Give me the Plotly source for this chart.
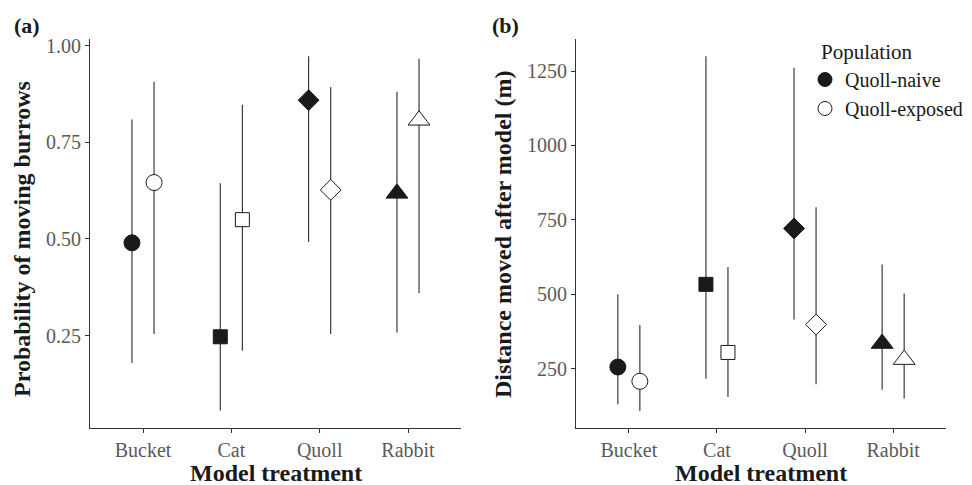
import plotly.graph_objects as go

W, H = 972, 485

categories = ["Bucket", "Cat", "Quoll", "Rabbit"]
symbols = ["circle", "square", "diamond", "triangle-up"]
sizes = [16, 14, 16, 19]

# Panel (a): probability of moving burrows
prob_naive = [0.490, 0.247, 0.859, 0.618]
prob_naive_lo = [0.179, 0.056, 0.492, 0.258]
prob_naive_hi = [0.809, 0.644, 0.973, 0.881]
prob_exposed = [0.646, 0.550, 0.627, 0.807]
prob_exposed_lo = [0.254, 0.211, 0.254, 0.360]
prob_exposed_hi = [0.907, 0.847, 0.893, 0.966]

# Panel (b): distance moved after model (m)
dist_naive = [255, 533, 721, 334]
dist_naive_lo = [130, 216, 415, 179]
dist_naive_hi = [500, 1300, 1261, 600]
dist_exposed = [207, 304, 398, 280]
dist_exposed_lo = [107, 154, 197, 149]
dist_exposed_hi = [396, 591, 792, 502]

prob_ticks = [0.25, 0.50, 0.75, 1.00]
dist_ticks = [250, 500, 750, 1000, 1250]

DODGE = 0.125
FONT = "Liberation Serif"
INK = "#1a1a1a"
TICKCOL = "#5a5a5a"

fig = go.Figure()


def add_series(xref, yref, vals, lo, hi, filled, name):
    xs = [i + 1 + (-DODGE if filled else DODGE) for i in range(len(categories))]
    fig.add_trace(go.Scatter(
        x=xs, y=vals, mode="markers", xaxis=xref, yaxis=yref, showlegend=False,
        name=name, hoverinfo="x+y",
        error_y=dict(type="data", symmetric=False,
                     array=[h - v for h, v in zip(hi, vals)],
                     arrayminus=[v - l for v, l in zip(vals, lo)],
                     width=0, thickness=1.1, color="#2a2a2a"),
        marker=dict(symbol=symbols, size=sizes, opacity=1,
                    color=INK if filled else "white",
                    line=dict(color=INK, width=1)),
    ))


add_series("x", "y", prob_naive, prob_naive_lo, prob_naive_hi, True, "Quoll-naive")
add_series("x", "y", prob_exposed, prob_exposed_lo, prob_exposed_hi, False, "Quoll-exposed")
add_series("x2", "y2", dist_naive, dist_naive_lo, dist_naive_hi, True, "Quoll-naive")
add_series("x2", "y2", dist_exposed, dist_exposed_lo, dist_exposed_hi, False, "Quoll-exposed")

# legend-only traces
fig.add_trace(go.Scatter(x=[None], y=[None], mode="markers", name="Quoll-naive",
                         xaxis="x2", yaxis="y2",
                         marker=dict(symbol="circle", size=14, opacity=1, color=INK,
                                     line=dict(color=INK, width=1))))
fig.add_trace(go.Scatter(x=[None], y=[None], mode="markers", name="Quoll-exposed",
                         xaxis="x2", yaxis="y2",
                         marker=dict(symbol="circle", size=14, opacity=1, color="white",
                                     line=dict(color=INK, width=1))))

ydom = [57 / H, 445.7 / H]
xcommon = dict(range=[0.4, 4.6], tickvals=[1, 2, 3, 4], ticktext=categories,
               showline=True, linecolor="#333", linewidth=1, ticks="outside", ticklen=4,
               tickcolor="#333", tickwidth=1, showgrid=False, zeroline=False,
               tickfont=dict(family=FONT, size=20, color=TICKCOL), fixedrange=True)
ycommon = dict(showline=True, linecolor="#333", linewidth=1, ticks="outside", ticklen=4,
               tickcolor="#333", tickwidth=1, showgrid=False, zeroline=False,
               tickfont=dict(family=FONT, size=20, color=TICKCOL), fixedrange=True)

fig.update_layout(
    width=W, height=H,
    margin=dict(l=0, r=0, t=0, b=0, autoexpand=False),
    paper_bgcolor="white", plot_bgcolor="white",
    font=dict(family=FONT, color=INK),
    xaxis=dict(domain=[90 / W, 461 / W], anchor="y", **xcommon),
    yaxis=dict(domain=ydom, anchor="x", range=[0.011, 1.0166], tickvals=prob_ticks,
               ticktext=[f"{v:.2f}" for v in prob_ticks], **ycommon),
    xaxis2=dict(domain=[576 / W, 946 / W], anchor="y2", **xcommon),
    yaxis2=dict(domain=ydom, anchor="x2", range=[50, 1357], tickvals=dist_ticks,
                ticktext=[str(v) for v in dist_ticks], **ycommon),
    legend=dict(x=805 / W, y=1 - 60 / H, xanchor="left", yanchor="top",
                font=dict(family=FONT, size=20, color=INK), bgcolor="rgba(0,0,0,0)",
                itemwidth=30, tracegroupgap=0),
    showlegend=True,
)

annots = [
    dict(text="<b>(a)</b>", x=12 / W, y=1 - 25 / H, xanchor="left", yanchor="middle", size=22),
    dict(text="<b>(b)</b>", x=490 / W, y=1 - 25 / H, xanchor="left", yanchor="middle", size=22),
    dict(text="<b>Probability of moving burrows</b>", x=22 / W, y=1 - 239 / H, xanchor="center",
         yanchor="middle", size=24, angle=-90),
    dict(text="<b>Distance moved after model (m)</b>", x=503 / W, y=1 - 235 / H, xanchor="center",
         yanchor="middle", size=24, angle=-90),
    dict(text="<b>Model treatment</b>", x=275.5 / W, y=1 - 473 / H, xanchor="center",
         yanchor="middle", size=24),
    dict(text="<b>Model treatment</b>", x=761 / W, y=1 - 473 / H, xanchor="center",
         yanchor="middle", size=24),
    dict(text="Population", x=819 / W, y=1 - 52 / H, xanchor="left", yanchor="middle", size=21),
]
for a in annots:
    fig.add_annotation(text=a["text"], x=a["x"], y=a["y"], xref="paper", yref="paper",
                       xanchor=a["xanchor"], yanchor=a["yanchor"], showarrow=False,
                       textangle=a.get("angle", 0),
                       font=dict(family=FONT, size=a["size"], color=INK))

fig.write_html("out.html")
